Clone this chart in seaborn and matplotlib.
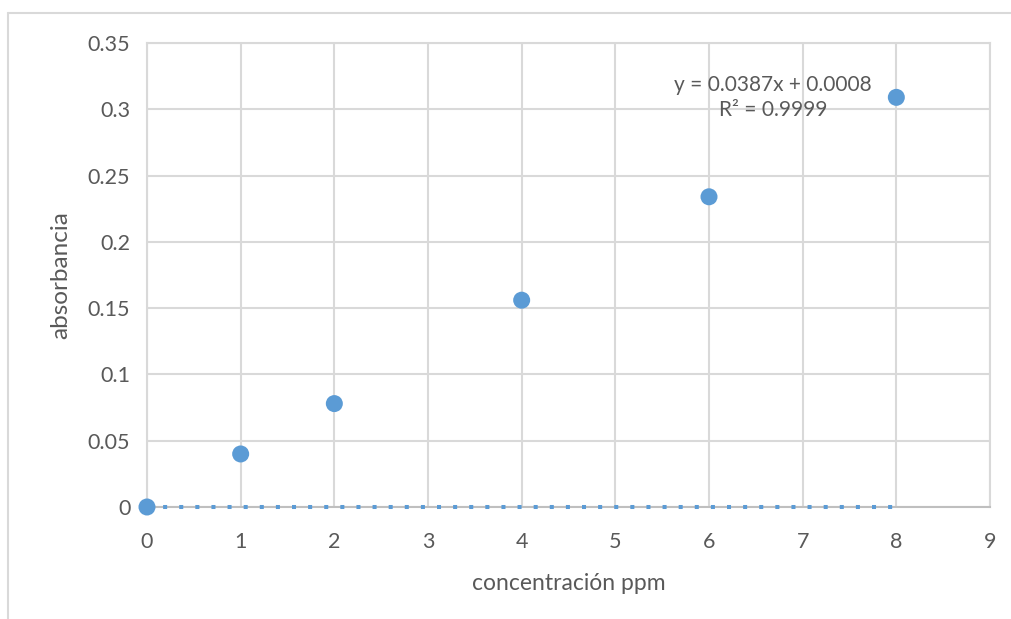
import matplotlib
matplotlib.use("Agg")
import matplotlib.pyplot as plt
from matplotlib.lines import Line2D
import seaborn as sns
import pandas as pd

# Calibration data
concentracion = [0, 1, 2, 4, 6, 8]
absorbancia = [0.0, 0.040, 0.078, 0.156, 0.234, 0.309]

# Trendline as displayed
trend_x = [0, 8]
trend_y = [0, 0]
ecuacion = "y = 0.0387x + 0.0008\nR² = 0.9999"

x_ticks = [0, 1, 2, 3, 4, 5, 6, 7, 8, 9]
y_ticks = [0, 0.05, 0.1, 0.15, 0.2, 0.25, 0.3, 0.35]
y_ticklabels = ["0", "0.05", "0.1", "0.15", "0.2", "0.25", "0.3", "0.35"]

sns.set_theme(style="white")
plt.rcParams["font.family"] = ["Lato", "DejaVu Sans"]

W, H = 1012, 619
fig = plt.figure(figsize=(W / 100, H / 100), dpi=100)
ax = fig.add_axes([147 / W, 1 - 507 / H, (990 - 147) / W, (507 - 43) / H])

grid_c = "#D9D9D9"
text_c = "#595959"
blue = "#5B9BD5"

df = pd.DataFrame({"concentracion": concentracion, "absorbancia": absorbancia})

ax.set_xlim(0, 9)
ax.set_ylim(0, 0.35)
ax.set_xticks(x_ticks)
ax.set_yticks(y_ticks)
ax.set_yticklabels(y_ticklabels)
ax.grid(True, color=grid_c, linewidth=1.5, zorder=0)
ax.set_axisbelow(True)

for side in ["top", "right", "left"]:
    ax.spines[side].set_color(grid_c)
    ax.spines[side].set_linewidth(1.5)
ax.spines["bottom"].set_color("#BFBFBF")
ax.spines["bottom"].set_linewidth(1.5)

ax.plot(trend_x, trend_y, linestyle=(0, (1, 3)), color=blue, linewidth=2.9,
        dash_capstyle="butt", zorder=3, clip_on=False)

sns.scatterplot(data=df, x="concentracion", y="absorbancia", ax=ax, s=150,
                color=blue, edgecolor="none", zorder=4, clip_on=False)

ax.tick_params(axis="both", length=0, labelsize=15.5, labelcolor=text_c)
ax.tick_params(axis="x", pad=18)
ax.tick_params(axis="y", pad=12)
ax.set_xlabel("concentración ppm", fontsize=16.5, color=text_c, labelpad=15)
ax.set_ylabel("absorbancia", fontsize=17.5, color=text_c, labelpad=12)

ax.text(6.68, 0.309, ecuacion, ha="center", va="center", multialignment="center",
        fontsize=15, color=text_c, linespacing=1.35, zorder=5)

# Chart area frame
fig.add_artist(Line2D([8 / W, 8 / W], [0, 1 - 13 / H], transform=fig.transFigure,
                      color=grid_c, linewidth=1.5))
fig.add_artist(Line2D([8 / W, 1011 / W], [1 - 13 / H, 1 - 13 / H], transform=fig.transFigure,
                      color=grid_c, linewidth=1.5))

fig.savefig("out.png", dpi=100)
